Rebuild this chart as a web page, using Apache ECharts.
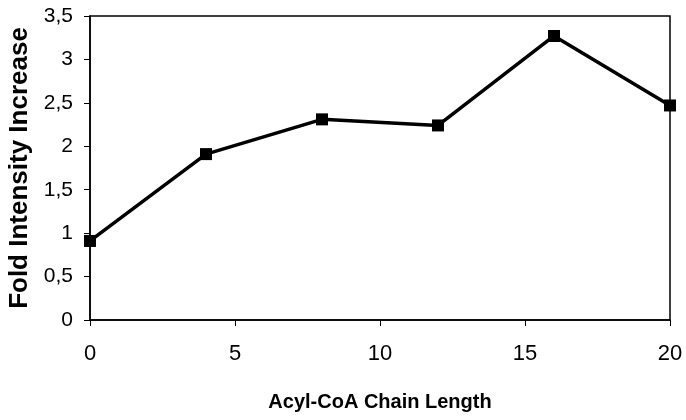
<!DOCTYPE html>
<html><head><meta charset="utf-8">
<script src="https://cdn.jsdelivr.net/npm/echarts@6/dist/echarts.min.js"></script>
<style>html,body{margin:0;padding:0;background:#fff}#c{width:686px;height:420px}</style>
</head><body><div id="c"></div>
<script>
var chainLength = [0, 4, 8, 12, 16, 20];
var foldIncrease = [0.91, 1.91, 2.31, 2.24, 3.27, 2.47];
var xTitle = 'Acyl-CoA Chain Length';
var yTitle = 'Fold Intensity Increase';

var font = '"Liberation Sans", Arial, sans-serif';
var chart = echarts.init(document.getElementById('c'), null, {renderer: 'canvas'});
chart.setOption({
  animation: false,
  backgroundColor: '#fff',
  grid: {left: 90, right: 16, top: 16, bottom: 100, outerBoundsMode: 'none', containLabel: false,
    show: true, borderColor: '#000', borderWidth: 1.5, backgroundColor: 'transparent'},
  xAxis: {
    type: 'value', min: 0, max: 20, interval: 5,
    name: xTitle, nameLocation: 'middle', nameGap: 72,
    nameTextStyle: {color: '#000', fontFamily: font, fontWeight: 'bold', fontSize: 20},
    axisLine: {show: true, lineStyle: {color: '#000', width: 1.5}},
    axisTick: {show: true, length: 6, lineStyle: {color: '#000'}},
    axisLabel: {color: '#000', fontFamily: font, fontSize: 22, margin: 23},
    splitLine: {show: false}
  },
  yAxis: {
    type: 'value', min: 0, max: 3.5, interval: 0.5,
    name: yTitle, nameLocation: 'middle', nameGap: 52, nameRotate: 90,
    nameTextStyle: {color: '#000', fontFamily: font, fontWeight: 'bold', fontSize: 26},
    axisLine: {show: true, lineStyle: {color: '#000', width: 1.5}},
    axisTick: {show: true, length: 6, lineStyle: {color: '#000'}},
    axisLabel: {color: '#000', fontFamily: font, fontSize: 21, margin: 17,
      formatter: function (v) { return String(v).replace('.', ','); }},
    splitLine: {show: false}
  },
  series: [{
    type: 'line',
    data: chainLength.map(function (x, i) { return [x, foldIncrease[i]]; }),
    symbol: 'rect', symbolSize: 12,
    lineStyle: {color: '#000', width: 3.5},
    itemStyle: {color: '#000'}
  }]
});
</script></body></html>
